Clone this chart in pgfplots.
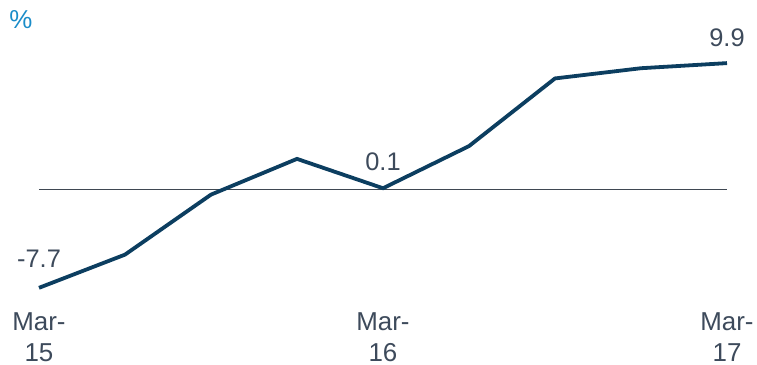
\documentclass[border=0pt]{standalone}
\usepackage{pgfplots}
\pgfplotsset{compat=1.18}
\usepackage{fontspec}
\setmainfont{Liberation Sans}
\definecolor{txt}{HTML}{3D4A5B}
\definecolor{ln}{HTML}{0C3E60}
\definecolor{pct}{HTML}{1A8CC8}
\definecolor{zl}{HTML}{3F4852}
\begin{document}
\begin{tikzpicture}[x=1bp,y=1bp]
\path[use as bounding box] (-39bp,-47.8bp) rectangle (718bp,317.2bp);
\begin{axis}[
  at={(0,0)}, anchor=south west,
  scale only axis,
  width=688bp, height=280.9bp,
  xmin=0, xmax=8, ymin=-10, ymax=12,
  axis line style={draw=none},
  tick style={draw=none},
  ytick=\empty,
  xtick={0,4,8},
  xticklabels={Mar-\\15, Mar-\\16, Mar-\\17},
  xticklabel style={align=center, inner sep=0pt, anchor=north, yshift=5bp,
    font=\fontsize{26}{31}\selectfont, text=txt},
  clip=false,
]
\draw[zl, line width=1.7bp] (axis cs:0,0) -- (axis cs:8,0);
\addplot[ln, line width=3.8bp, no marks] coordinates {
  (0,-7.7) (1,-5.1) (2,-0.4) (3,2.4) (4,0.1) (5,3.4) (6,8.7) (7,9.5) (8,9.9)
};
\node[anchor=base, text=txt, font=\fontsize{25.5}{30}\selectfont] at (axis cs:0,-7.7) [yshift=20bp] {-7.7};
\node[anchor=base, text=txt, font=\fontsize{25.5}{30}\selectfont] at (axis cs:4,0.1) [yshift=18bp] {0.1};
\node[anchor=base, text=txt, font=\fontsize{25.5}{30}\selectfont] at (axis cs:8,9.9) [yshift=17bp] {9.9};
\end{axis}
\node[anchor=base, text=pct, font=\fontsize{26}{30}\selectfont] at (-18bp, 289bp) {\%};
\end{tikzpicture}
\end{document}
